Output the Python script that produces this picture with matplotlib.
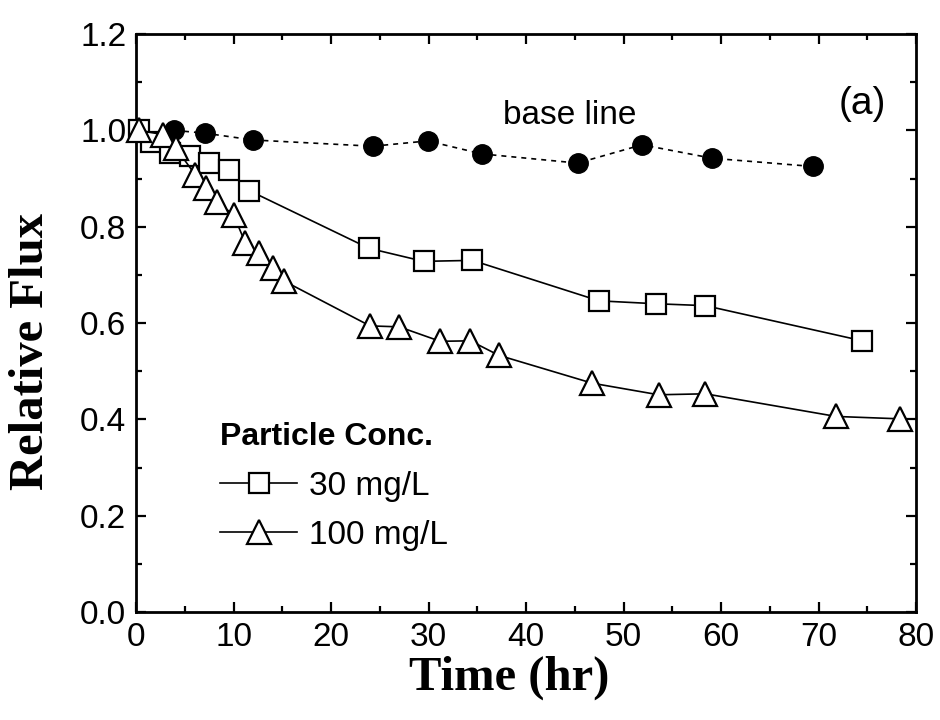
import matplotlib
matplotlib.use('Agg')
import matplotlib.pyplot as plt
from matplotlib.ticker import MultipleLocator, FormatStrFormatter

# values
base_t = [3.9, 7.1, 12.0, 24.3, 29.9, 35.5, 45.3, 51.9, 59.1, 69.4]
base_f = [1.0, 0.994, 0.980, 0.967, 0.978, 0.951, 0.932, 0.970, 0.942, 0.925]

c30_t = [0.3, 1.5, 3.5, 5.5, 7.5, 9.5, 11.6, 23.9, 29.5, 34.5, 47.5, 53.3, 58.4, 74.5]
c30_f = [1.0, 0.975, 0.953, 0.947, 0.933, 0.917, 0.875, 0.755, 0.728, 0.730,
         0.646, 0.640, 0.636, 0.563]

c100_t = [0.3, 2.8, 4.1, 6.1, 7.2, 8.3, 10.0, 11.2, 12.6, 14.1, 15.2, 24.0, 27.0,
          31.2, 34.3, 37.2, 46.8, 53.6, 58.4, 71.8, 78.4]
c100_f = [1.0, 0.991, 0.963, 0.907, 0.880, 0.851, 0.825, 0.767, 0.745, 0.714, 0.687,
          0.594, 0.592, 0.562, 0.563, 0.533, 0.475, 0.451, 0.453, 0.406, 0.401]

labels = ['30 mg/L', '100 mg/L']

plt.rcParams['font.family'] = ['Liberation Sans', 'DejaVu Sans']
FontSize = 24

fig = plt.figure(figsize=(9.4, 7.2), dpi=100)
ax = fig.add_axes([136/940, 1-612/720, 780/940, 578/720])

ax.plot(base_t, base_f, linestyle=(0, (3, 3)), color='black', lw=1.2,
        marker='o', ms=14, mfc='black', mec='black', clip_on=False, zorder=3)
l1, = ax.plot(c30_t, c30_f, '-', color='black', lw=1.2, marker='s', ms=14,
              mfc='white', mec='black', mew=1.6, clip_on=False, zorder=4)
l2, = ax.plot(c100_t, c100_f, '-', color='black', lw=1.2, marker='^', ms=17,
              mfc='white', mec='black', mew=1.6, clip_on=False, zorder=5)

ax.set_xlim(0, 80)
ax.set_ylim(0, 1.2)
ax.xaxis.set_major_locator(MultipleLocator(10))
ax.xaxis.set_minor_locator(MultipleLocator(5))
ax.yaxis.set_major_locator(MultipleLocator(0.2))
ax.yaxis.set_minor_locator(MultipleLocator(0.1))
ax.yaxis.set_major_formatter(FormatStrFormatter('%.1f'))

ax.tick_params(which='both', direction='in', top=True, right=True, width=1.6)
ax.tick_params(which='major', length=7, labelsize=FontSize)
ax.tick_params(which='minor', length=4)
ax.tick_params(axis='x', pad=7)
ax.tick_params(axis='y', pad=7)
for s in ax.spines.values():
    s.set_linewidth(2)

ax.set_xlabel('Time (hr)', family='Liberation Serif', weight='bold', fontsize=35)
ax.set_ylabel('Relative Flux', family='Liberation Serif', weight='bold', fontsize=35)
ax.xaxis.set_label_coords(0.478, -0.075)
ax.yaxis.set_label_coords(-0.106, 0.45)

ax.text(44.5, 1.03, 'base line', fontsize=FontSize, ha='center', va='center')
ax.text(74.5, 1.055, '(a)', fontsize=28, ha='center', va='center')

leg = ax.legend([l1, l2], labels, loc='upper left', bbox_to_anchor=(0.108, 0.328),
                title='Particle Conc.', frameon=False, fontsize=FontSize,
                title_fontproperties={'weight': 'bold', 'size': 23},
                alignment='left', handlelength=2.3, handletextpad=0.35,
                labelspacing=0.55, borderpad=0, borderaxespad=0, numpoints=1)

plt.savefig('out.png', dpi=100)
plt.close()
